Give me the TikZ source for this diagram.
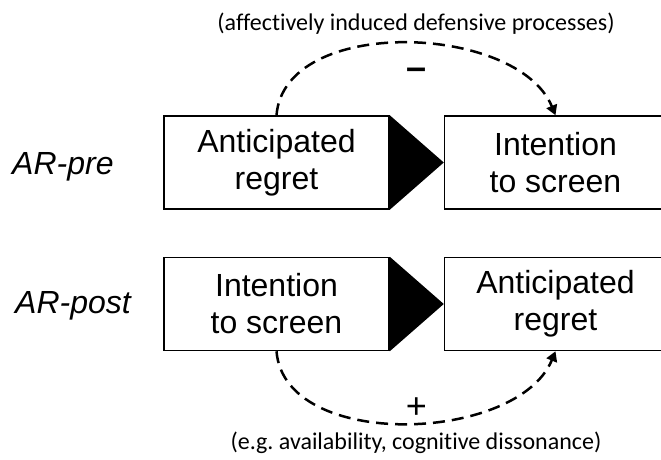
\documentclass[tikz,border=0pt]{standalone}
\usepackage{fontspec}
\setmainfont{Liberation Sans}
\newfontfamily\notefont[Ligatures=NoCommon]{Carlito}
\usetikzlibrary{arrows.meta, positioning}
\tikzstyle{box} = [rectangle,
			draw,
			line width = 1.5pt,
			text centered,
			align = center,
			inner sep = 0pt,
			minimum width = 225pt,
			minimum height = 93pt,
			font = \fontsize{32}{37}\selectfont]
\tikzstyle{lbl} = [anchor = base west,
			inner sep = 0pt,
			font = \fontsize{32}{37}\selectfont\itshape]
\tikzstyle{note} = [inner sep = 0pt,
			font = \fontsize{24}{28}\selectfont\notefont]
\tikzstyle{sign} = [anchor = base,
			inner sep = 0pt,
			font = \fontsize{36}{40}\selectfont]
\tikzstyle{link} = [line width = 2.5pt,
			dash pattern = on 12pt off 7pt,
			-{Triangle[width = 11pt, length = 10pt]}]

\begin{document}
\begin{tikzpicture}[x = 1pt, y = -1pt, node distance = 54pt]
	\useasboundingbox (0,0) rectangle (661,460);
	% AR-pre
	\node [box] (preleft) at (276.5,162.5) {Anticipated\\regret};
	\node [box, minimum width = 222pt, right=of preleft] (preright) {Intention\\to screen};
	\fill (preleft.north east) -- (preleft.south east) -- (preright.west) -- cycle;
	\node [lbl] (prelbl) at (12,174) {AR-pre};
	% AR-post
	\node [box, below=47pt of preleft] (postleft) {Intention\\to screen};
	\node [box, minimum width = 222pt, right=of postleft] (postright) {Anticipated\\regret};
	\fill (postleft.north east) -- (postleft.south east) -- (postright.west) -- cycle;
	\node [lbl] (postlbl) at (15,313) {AR-post};
	% dashed paths
	\draw [link] (preleft.north) .. controls +(8,-100) and +(-38,-92) .. (preright.north);
	\node [sign] (minus) at (417,79) {\bfseries --};
	\node [note] (topnote) at (416,24) {(affectively induced defensive processes)};
	\draw [link] (postleft.south) .. controls +(8,100) and +(-38,92) .. (postright.south);
	\node [sign] (plus) at (416.5,418) {+};
	\node [note] (botnote) at (416,443) {(e.g.\ availability, cognitive dissonance)};
\end{tikzpicture}
\end{document}
